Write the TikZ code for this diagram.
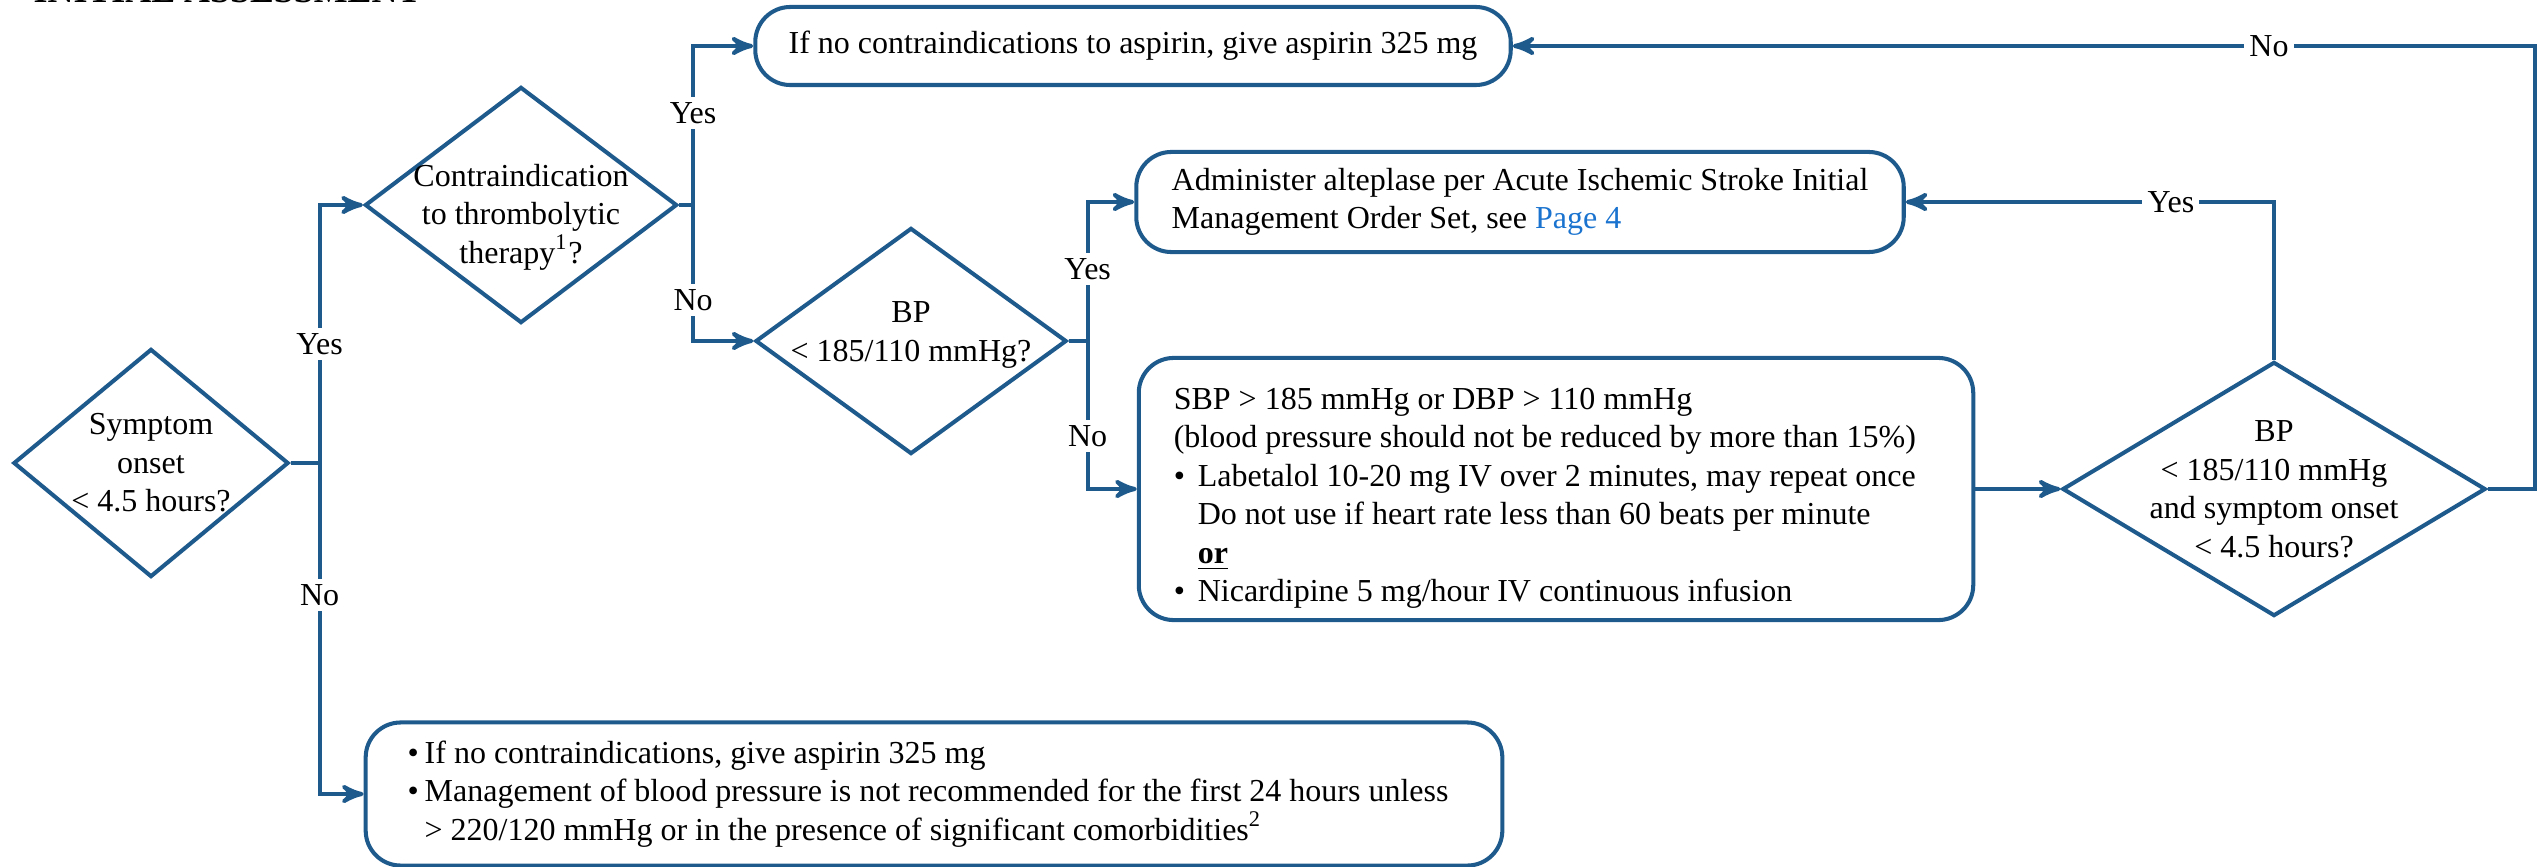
\documentclass[tikz,border=0pt]{standalone}
\usepackage{fontspec}
\setmainfont{Liberation Serif}
\usetikzlibrary{arrows,shapes.geometric}
\definecolor{flowblue}{RGB}{31,90,140}
\definecolor{linkblue}{RGB}{26,115,207}
\newcommand{\bul}[1][0.24cm]{\makebox[#1][l]{\textbullet}}

\begin{document}
\begin{tikzpicture}[x=0.01cm,y=-0.01cm,>=stealth',line width=1.15pt,
                    font=\fontsize{9.1pt}{10.95pt}\selectfont,
                    decision node/.style={diamond,draw=flowblue,inner sep=0pt},
                    action node/.style={rectangle,draw=flowblue,rounded corners=0.35cm,inner sep=0pt},
                    answer/.style={fill=white,inner sep=1.5pt,text=black}]
  \useasboundingbox (0,0) rectangle (2543,867);
  \node[anchor=base west,font=\fontsize{10.2pt}{12pt}\selectfont\bfseries] (title) at (20,3) {INITIAL ASSESSMENT};

  \node[decision node,minimum width=2.75cm,minimum height=2.28cm,
        label={[align=center]center:Symptom\\onset\\< 4.5 hours?}] (1) at (151,463) {};
  \node[decision node,minimum width=3.12cm,minimum height=2.36cm,
        label={[align=center,yshift=-0.12cm]center:Contraindication\\to thrombolytic\\therapy\textsuperscript{1}?}] (2) at (521,205) {};
  \node[action node,minimum width=7.55cm,minimum height=0.78cm] (3) at (1133,46)
        {If no contraindications to aspirin, give aspirin 325 mg};
  \node[decision node,minimum width=3.11cm,minimum height=2.26cm,
        label={[align=center,yshift=0.06cm]center:BP\\< 185/110 mmHg?}] (4) at (911,341) {};
  \node[action node,minimum width=7.67cm,minimum height=1.0cm,align=left] (5) at (1520,202)
        {Administer alteplase per Acute Ischemic Stroke Initial\\Management Order Set, see \textcolor{linkblue}{Page 4}};
  \node[action node,minimum width=8.34cm,minimum height=2.62cm,inner xsep=0.35cm,text width=7.64cm,align=flush left] (6) at (1556,489)
        {\rule{0pt}{0.4cm}SBP > 185 mmHg or DBP > 110 mmHg\\
         (blood pressure should not be reduced by more than 15\%)\\
         \bul Labetalol 10-20 mg IV over 2 minutes, may repeat once\\
         \phantom{\bul}Do not use if heart rate less than 60 beats per minute\\
         \phantom{\bul}\underline{\textbf{or}}\\
         \bul Nicardipine 5 mg/hour IV continuous infusion};
  \node[decision node,minimum width=4.23cm,minimum height=2.54cm,
        label={[align=center]center:BP\\< 185/110 mmHg\\and symptom onset\\< 4.5 hours?}] (7) at (2274,489) {};
  \node[action node,minimum width=11.36cm,minimum height=1.43cm,inner xsep=0.42cm,text width=10.52cm,align=flush left] (8) at (934,794)
        {\bul[0.17cm]If no contraindications, give aspirin 325 mg\\
         \bul[0.17cm]Management of blood pressure is not recommended for the first 24 hours unless\\
         \phantom{\bul[0.17cm]}> 220/120 mmHg or in the presence of significant comorbidities\textsuperscript{2}};

  % connectors
  \draw[flowblue,->] (1.east) -- ++(29,0) |- node[answer,pos=0.23] (y1) {Yes} (2.west);
  \draw[flowblue,->] (1.east) -- ++(29,0) |- node[answer,pos=0.2] (n1) {No} (8.west);
  \draw[flowblue,->] (2.east) -- ++(14,0) |- node[answer,pos=0.29] (y2) {Yes} (3.west);
  \draw[flowblue,->] (2.east) -- ++(14,0) |- node[answer,pos=0.35] (n2) {No} (4.west);
  \draw[flowblue,->] (4.east) -- ++(19,0) |- node[answer,pos=0.26] (y3) {Yes} (5.west);
  \draw[flowblue,->] (4.east) -- ++(19,0) |- node[answer,pos=0.32] (n3) {No} (6.west);
  \draw[flowblue,->] (6.east) -- (7.west);
  \draw[flowblue,->] (7.north) |- node[answer,pos=0.64] (y4) {Yes} (5.east);
  \draw[flowblue,->] (7.east) -- ++(47,0) |- node[answer,pos=0.63] (n4) {No} (3.east);
\end{tikzpicture}
\end{document}
